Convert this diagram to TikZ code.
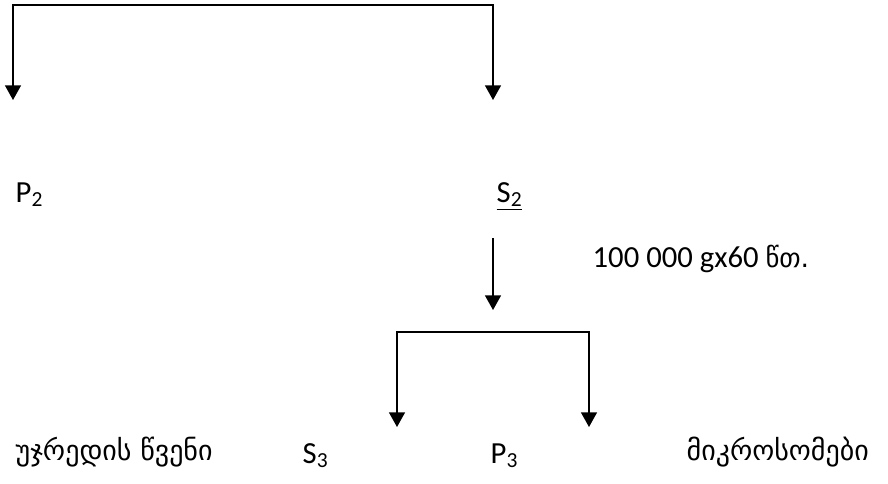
\documentclass[tikz,border=0pt]{standalone}
\usepackage{fontspec}
\setmainfont{Carlito}
\newfontfamily\geofont{DejaVu Sans}
\usetikzlibrary{positioning,arrows.meta}

\begin{document}
\begin{tikzpicture}[x=0.75pt,y=-0.75pt,
    -{Triangle[length=11pt,width=12pt]},
    line width=1pt,
    every node/.style={inner sep=0pt,anchor=base west,font=\fontsize{23}{28}\selectfont},
    geo/.style={font=\fontsize{21}{26}\selectfont\geofont}]
    \useasboundingbox (0,0) rectangle (888,483);
    % top split
    \coordinate (tl) at (13,5);
    \coordinate (tr) at (493,5);
    \coordinate (P2in) at (13,100);
    \coordinate (S2in) at (493,100);
    \node (P2) at (15,202) {P\textsubscript{2}};
    \node (S2) at (496,202) {\underline{S\textsubscript{2}}};
    \draw[{Triangle[length=11pt,width=12pt]}-{Triangle[length=11pt,width=12pt]}]
        (P2in) -- (tl) -- (tr) -- (S2in);
    % second spin
    \coordinate (S2out) at (493,238);
    \coordinate (split) at (493,310);
    \node (spin) at (592,267) {100 000 gx60 {\geofont\fontsize{20}{24}\selectfont წთ.}};
    \draw (S2out) -- (split);
    % bottom split
    \coordinate (bl) at (397,332);
    \coordinate (br) at (589,332);
    \coordinate (S3in) at (397,427);
    \coordinate (P3in) at (589,427);
    \draw[{Triangle[length=11pt,width=12pt]}-{Triangle[length=11pt,width=12pt]}]
        (S3in) -- (bl) -- (br) -- (P3in);
    \node[geo] (sap) at (15,460) {უჯრედის წვენი};
    \node (S3) at (302,463) {S\textsubscript{3}};
    \node (P3) at (490,463) {P\textsubscript{3}};
    \node[geo] (micro) at (686,460) {მიკროსომები};
\end{tikzpicture}
\end{document}
